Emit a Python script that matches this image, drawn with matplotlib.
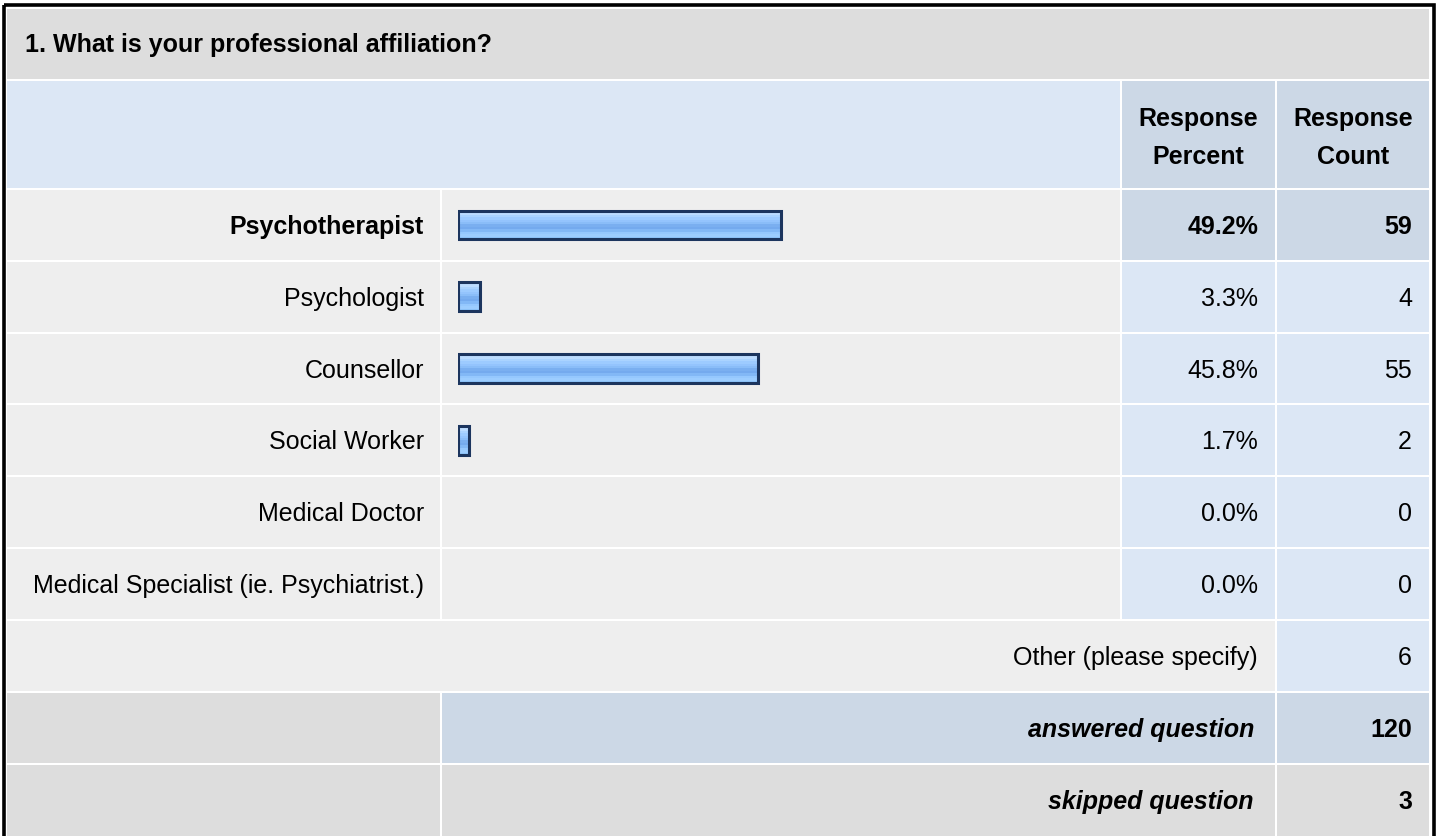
import numpy as np
import matplotlib.pyplot as plt
from matplotlib.patches import Rectangle
from matplotlib.colors import to_rgb

plt.rcParams['font.family'] = ['Liberation Sans', 'DejaVu Sans']

# Данные опроса
title = '1. What is your professional affiliation?'
categories = ['Psychotherapist', 'Psychologist', 'Counsellor', 'Social Worker',
              'Medical Doctor', 'Medical Specialist (ie. Psychiatrist.)']
percents = [49.2, 3.3, 45.8, 1.7, 0.0, 0.0]
counts = [59, 4, 55, 2, 0, 0]
other_label = 'Other (please specify)'
other_count = 6
answered = 120
skipped = 3

# Цвета
c_gray = '#dddddd'
c_light = '#eeeeee'
c_blue = '#dce7f5'
c_blue2 = '#ccd8e6'
fs = 18

W, H = 1438, 837
fig = plt.figure(figsize=(W / 100, H / 100), dpi=100)
ax = fig.add_axes([0, 0, 1, 1])
ax.set_xlim(0, W)
ax.set_ylim(H, 0)
ax.axis('off')

# Границы колонок и строк (в пикселях)
cols = [7, 440, 442, 1120, 1122, 1275, 1277, 1429]
rows = [190, 262, 334, 405, 477, 549, 621, 693, 765, 838]


def cell(x0, x1, y0, y1, color):
    ax.add_patch(Rectangle((x0, y0), x1 - x0, y1 - y0, color=color, lw=0))


# Заголовок
cell(cols[0], cols[7], 10, 80, c_gray)
ax.text(25, 45, title, fontsize=fs, fontweight='bold', va='center')

# Шапка таблицы
cell(cols[0], cols[3], 82, 189, c_blue)
cell(cols[4], cols[5], 82, 189, c_blue2)
cell(cols[6], cols[7], 82, 189, c_blue2)
ax.text((cols[4] + cols[5]) / 2, 138, 'Response\nPercent', fontsize=fs,
        fontweight='bold', ha='center', va='center', linespacing=1.7)
ax.text((cols[6] + cols[7]) / 2, 138, 'Response\nCount', fontsize=fs,
        fontweight='bold', ha='center', va='center', linespacing=1.7)

# Строки с ответами
imax = int(np.argmax(counts))
for i, (cat, p, n) in enumerate(zip(categories, percents, counts)):
    y0, y1 = rows[i] + 1, rows[i + 1] - 1
    yc = (y0 + y1) / 2 + 1
    hl = i == imax
    cell(cols[0], cols[1], y0, y1, c_light)
    cell(cols[2], cols[3], y0, y1, c_light)
    cell(cols[4], cols[5], y0, y1, c_blue2 if hl else c_blue)
    cell(cols[6], cols[7], y0, y1, c_blue2 if hl else c_blue)
    w = 'bold' if hl else 'normal'
    ax.text(cols[1] - 16, yc, cat, fontsize=fs, fontweight=w, ha='right', va='center')
    ax.text(cols[5] - 17, yc, f'{p:.1f}%', fontsize=fs, fontweight=w, ha='right', va='center')
    ax.text(cols[7] - 17, yc, str(n), fontsize=fs, fontweight=w, ha='right', va='center')

# Other
y0, y1 = rows[6] + 1, rows[7] - 1
cell(cols[0], cols[5], y0, y1, c_light)
cell(cols[6], cols[7], y0, y1, c_blue)
ax.text(cols[5] - 17, (y0 + y1) / 2 + 1, other_label, fontsize=fs, ha='right', va='center')
ax.text(cols[7] - 17, (y0 + y1) / 2 + 1, str(other_count), fontsize=fs, ha='right', va='center')

# answered / skipped
for k, (lab, val, bg) in enumerate([('answered question', answered, c_blue2),
                                    ('skipped question', skipped, c_gray)]):
    y0, y1 = rows[7 + k] + 1, rows[8 + k] - 1
    yc = (y0 + y1) / 2 + 1
    cell(cols[0], cols[1], y0, y1, c_gray)
    cell(cols[2], cols[5], y0, y1, bg)
    cell(cols[6], cols[7], y0, y1, bg)
    ax.text(cols[5] - 21, yc, lab, fontsize=fs, fontweight='bold', style='italic',
            ha='right', va='center')
    ax.text(cols[7] - 17, yc, str(val), fontsize=fs, fontweight='bold',
            ha='right', va='center')

# Внешняя рамка
ax.add_patch(Rectangle((3.5, 5.5), 1430, 900, fill=False, ec='black', lw=2.6))

# Ось для полос
bx0, bx1 = 458, 458 + 656
by0, by1 = rows[0], rows[6]
bax = fig.add_axes([bx0 / W, 1 - by1 / H, (bx1 - bx0) / W, (by1 - by0) / H])
bax.set_xlim(0, 100)
bax.set_ylim(len(categories) - 0.5, -0.5)
bax.axis('off')

grad = ['#cde6ff', '#bcdcff', '#aad3ff', '#9dcbff', '#94c4fd', '#8abdf8',
        '#7aaff0', '#74aaee', '#82b8f6', '#95c8fe', '#9ccdff', '#8ec4fb']
img = np.array([[to_rgb(c)] for c in grad])
bh = 0.4
for i, p in enumerate(percents):
    if p <= 0:
        continue
    yc = i + 0.0
    bax.barh(yc + 0.02, p + 0.25, height=bh, left=0, color='#7f8da0', alpha=0.6)
    bax.imshow(img, extent=(0, p, yc + bh / 2, yc - bh / 2), aspect='auto',
               interpolation='nearest', zorder=2)
    bax.barh(yc, p, height=bh, fill=False, edgecolor='#1c355e', lw=2.2, zorder=3)

bax.set_xlim(0, 100)
bax.set_ylim(len(categories) - 0.5, -0.5)

fig.savefig('out.png', dpi=100, facecolor='white')
